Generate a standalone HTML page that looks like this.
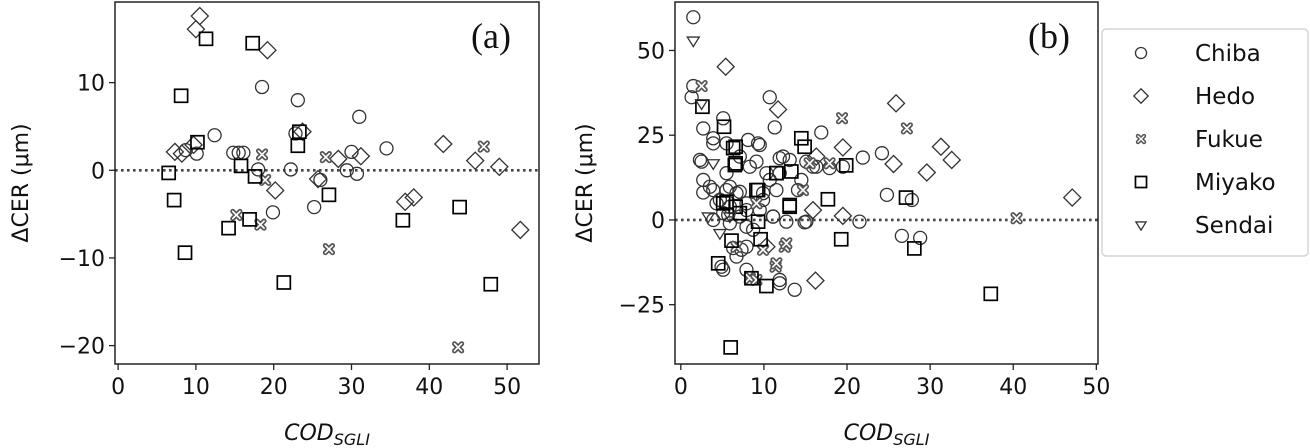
<!DOCTYPE html>
<html><head><meta charset="utf-8"><style>
body{margin:0;background:#fff}
svg{display:block;font-family:"DejaVu Sans","Liberation Sans",sans-serif}
</style></head><body>
<svg id="fig" width="1310" height="448" viewBox="0 0 1310 448">
<g id="pa"></g>
<g id="pb"></g>
<g id="legend"></g>
</svg>
<script>
const stations = ["Chiba","Hedo","Fukue","Miyako","Sendai"];
const xTicksA = [0,10,20,30,40,50];
const yTicksA = [10,0,-10,-20];
const xTicksB = [0,10,20,30,40,50];
const yTicksB = [50,25,0,-25];
// Panel (a) data
const aChibaX=[18.5,23.1,31.0,12.4,34.5,8.7,10.1,14.8,15.5,16.1,22.2,19.9,25.2,18.0,30.0,30.7,29.4,26.0,22.8];
const aChibaY=[9.5,8.0,6.1,4.0,2.5,2.3,1.9,2.0,2.0,2.0,0.1,-4.8,-4.2,0.1,2.1,-0.4,0.0,-1.1,4.2];
const aHedoX=[10.5,10.0,19.2,7.3,8.2,9.7,20.2,28.3,31.2,41.8,45.9,49.0,51.7,36.9,38.0,25.7,23.7];
const aHedoY=[17.6,16.1,13.7,2.1,1.9,2.9,-2.3,1.3,1.6,3.0,1.1,0.4,-6.8,-3.6,-3.1,-1.0,4.4];
const aFukueX=[18.5,26.7,15.2,18.3,27.1,43.7,47.0,18.9];
const aFukueY=[1.8,1.5,-5.1,-6.2,-9.0,-20.2,2.7,-1.1];
const aMiyakoX=[11.3,17.3,8.1,10.2,6.5,7.2,8.6,14.2,16.9,15.8,17.6,23.1,23.3,27.1,21.3,36.6,43.9,47.9];
const aMiyakoY=[15.0,14.5,8.5,3.2,-0.3,-3.4,-9.4,-6.6,-5.6,0.5,-0.7,2.8,4.4,-2.8,-12.8,-5.7,-4.2,-13.0];
const aSendaiX=[];
const aSendaiY=[];
// Panel (b) data
const bChibaX=[1.5,1.5,1.3,2.7,5.1,2.5,2.7,2.7,10.7,11.3,16.9,21.9,24.2,24.8,27.8,26.6,28.8,21.5,14.9,13.7,11.9,4.9,9.3,8.1,3.9,11.1,6.7,8.7,19.5,13.1,5.7,7.3,4.7,7.9,9.9,12.3,15.9,3.5,5.9,10.3,6.3,8.3,
 3.9,5.5,9.5,7.1,9.1,11.9,15.1,16.3,17.9,3.9,5.5,7.1,9.9,11.5,10.7,4.3,5.9,7.9,9.5,11.1,12.7,15.1,3.9,5.9,7.9,5.1,7.1,7.9,6.7,5.1,7.9,11.9,14.1,14.5,11.9,2.3,5.5];
const bChibaY=[59.8,39.5,36.2,27.0,30.0,17.2,11.8,8.1,36.2,27.3,25.8,18.4,19.7,7.4,5.9,-4.7,-5.3,-0.5,-0.7,-20.6,-17.7,-13.8,22.6,23.6,22.6,1.0,7.9,-2.9,15.7,17.7,1.5,-8.8,5.9,2.9,5.9,18.7,15.7,9.8,9.8,13.8,-8.3,15.7,
 24.1,22.6,22.1,18.7,17.2,18.2,17.2,15.7,15.3,8.8,8.8,8.3,7.9,8.8,11.8,4.9,3.9,4.9,2.9,1.0,-0.5,-0.5,0.0,-1.0,-2.0,2.0,1.0,-7.9,-10.8,-14.7,-14.7,-18.7,8.8,11.8,13.8,17.7,13.8];
const bHedoX=[5.4,11.7,25.9,19.5,25.6,29.6,31.3,32.6,47.1,19.5,16.2,15.9,16.3,10.3];
const bHedoY=[45.2,32.6,34.4,21.4,16.5,14.0,21.6,17.7,6.6,1.2,-17.9,2.9,18.7,-7.9];
const bFukueX=[19.4,27.2,2.5,40.4,12.5,11.4,14.7,8.3,6.7,15.5,17.9,9.1,12.7,11.5,9.9,9.1];
const bFukueY=[30.0,27.0,39.5,0.5,-7.9,-13.8,8.8,-17.2,-7.9,16.7,16.7,4.9,-6.9,-12.8,-8.8,-17.7];
const bMiyakoX=[2.6,5.2,6.6,6.6,14.5,14.9,19.9,13.3,11.5,9.3,17.7,27.1,9.3,6.1,9.6,19.3,28.1,4.5,8.5,10.3,37.3,6.0,5.5,6.6,13.1,5.1,7.1,9.1,11.5,13.1,6.3,6.5];
const bMiyakoY=[33.4,27.5,21.6,16.7,24.1,21.6,16.1,14.3,13.8,8.8,6.1,6.6,-0.5,-6.1,-5.7,-5.7,-8.4,-12.8,-17.2,-19.5,-21.8,-37.6,5.4,3.9,3.9,4.9,2.0,8.8,13.8,4.4,21.2,16.2];
const bSendaiX=[1.5,2.5,3.9,3.3,5.9,4.7];
const bSendaiY=[52.9,34.4,16.7,1.0,1.0,-3.9];

const NS="http://www.w3.org/2000/svg";
function mk(tag,attrs,parent){const e=document.createElementNS(NS,tag);for(const k in attrs)e.setAttribute(k,attrs[k]);parent.appendChild(e);return e;}

function marker(type,cx,cy,parent,scale){
  const s=scale||1;let e;
  if(type==="Chiba"){e=mk("circle",{cx:cx,cy:cy,r:6.5*s,fill:"none",stroke:"#333","stroke-width":1.3},parent);}
  else if(type==="Hedo"){const d=8.5*s;e=mk("path",{d:`M${cx},${cy-d}L${cx+d},${cy}L${cx},${cy+d}L${cx-d},${cy}Z`,fill:"none",stroke:"#333","stroke-width":1.3},parent);}
  else if(type==="Miyako"){const d=6.5*s;e=mk("rect",{x:cx-d,y:cy-d,width:2*d,height:2*d,fill:"none",stroke:"#000","stroke-width":1.7},parent);}
  else if(type==="Sendai"){const d=6*s;e=mk("path",{d:`M${cx-d},${cy-d*0.6}L${cx+d},${cy-d*0.6}L${cx},${cy+d}Z`,fill:"none",stroke:"#333","stroke-width":1.3},parent);}
  else {e=mk("g",{},parent);
    const d=3.6*s;
    mk("path",{d:`M${cx-d},${cy-d}L${cx+d},${cy+d}M${cx+d},${cy-d}L${cx-d},${cy+d}`,stroke:"#555","stroke-width":5*s,"stroke-linecap":"round",fill:"none"},e);
    mk("path",{d:`M${cx-d},${cy-d}L${cx+d},${cy+d}M${cx+d},${cy-d}L${cx-d},${cy+d}`,stroke:"#fff","stroke-width":1.6*s,"stroke-linecap":"round",fill:"none"},e);
  }
  return e;
}

function panel(g,box,xr,yr,xt,yt,series,tag,ylabX){
  const sx=v=>box.l+(v-xr[0])/(xr[1]-xr[0])*(box.r-box.l);
  const sy=v=>box.b-(v-yr[0])/(yr[1]-yr[0])*(box.b-box.t);
  const zl=mk("line",{x1:box.l,x2:box.r,y1:sy(0),y2:sy(0),stroke:"#444","stroke-width":2.6,"stroke-dasharray":"2.6,3.4"},g);
  
  
  series.forEach(s=>{
    const sg=mk("g",{},g);
    
    
    s.x.forEach((xv,i)=>{const m=marker(s.name,sx(xv),sy(s.y[i]),sg);
      
      });
  });
  const fr=mk("rect",{x:box.l,y:box.t,width:box.r-box.l,height:box.b-box.t,fill:"none",stroke:"#222","stroke-width":1.5},g);
  
  
  xt.forEach(v=>{const x=sx(v);
    mk("line",{x1:x,x2:x,y1:box.b,y2:box.b+6,stroke:"#222","stroke-width":1.3},g);
    const t=mk("text",{x:x,y:box.b+30,"text-anchor":"middle","font-size":22,fill:"#111"},g);t.textContent=v;
    
    });
  yt.forEach(v=>{const y=sy(v);
    mk("line",{x1:box.l-6,x2:box.l,y1:y,y2:y,stroke:"#222","stroke-width":1.3},g);
    const t=mk("text",{x:box.l-10,y:y+8,"text-anchor":"end","font-size":22,fill:"#111"},g);t.textContent=String(v).replace("-","\u2212");
    
    });
  const xl=mk("text",{x:(box.l+box.r)/2,y:440,"text-anchor":"middle","font-size":22,"font-style":"italic",fill:"#111"},g);
  xl.innerHTML='COD<tspan font-size="16" dy="5">SGLI</tspan>';
  
  
  const yl=mk("text",{x:ylabX,y:(box.t+box.b)/2,"text-anchor":"middle","font-size":22,fill:"#111",transform:`rotate(-90 ${ylabX} ${(box.t+box.b)/2})`},g);
  yl.textContent="\u0394CER (\u03bcm)";
  
  
  const pt=mk("text",{x:box.r-28,y:48,"text-anchor":"end","font-size":36,"font-family":"Liberation Serif, serif",fill:"#111"},g);
  pt.textContent=tag;
  
  
}

panel(document.getElementById("pa"),{l:115,r:539,t:2,b:364},[-0.4,54.1],[-22.1,19.2],xTicksA,yTicksA,
 [{name:"Chiba",x:aChibaX,y:aChibaY},{name:"Hedo",x:aHedoX,y:aHedoY},{name:"Fukue",x:aFukueX,y:aFukueY},{name:"Miyako",x:aMiyakoX,y:aMiyakoY},{name:"Sendai",x:aSendaiX,y:aSendaiY}],"(a)",28);
panel(document.getElementById("pb"),{l:675,r:1098,t:2,b:364},[-0.7,50.2],[-42.5,64.3],xTicksB,yTicksB,
 [{name:"Chiba",x:bChibaX,y:bChibaY},{name:"Hedo",x:bHedoX,y:bHedoY},{name:"Fukue",x:bFukueX,y:bFukueY},{name:"Miyako",x:bMiyakoX,y:bMiyakoY},{name:"Sendai",x:bSendaiX,y:bSendaiY}],"(b)",592);

const lg=document.getElementById("legend");
mk("rect",{x:1102,y:29,width:206,height:227,rx:4,fill:"#fff",stroke:"#ccc","stroke-width":1.2},lg);
stations.forEach((s,i)=>{const y=53+i*43;
  const eg=mk("g",{},lg);
  
  
  marker(s,1141,y,eg,0.85);
  const t=mk("text",{x:1195,y:y+8,"font-size":23,fill:"#111"},eg);t.textContent=s;});
</script>
</body></html>
